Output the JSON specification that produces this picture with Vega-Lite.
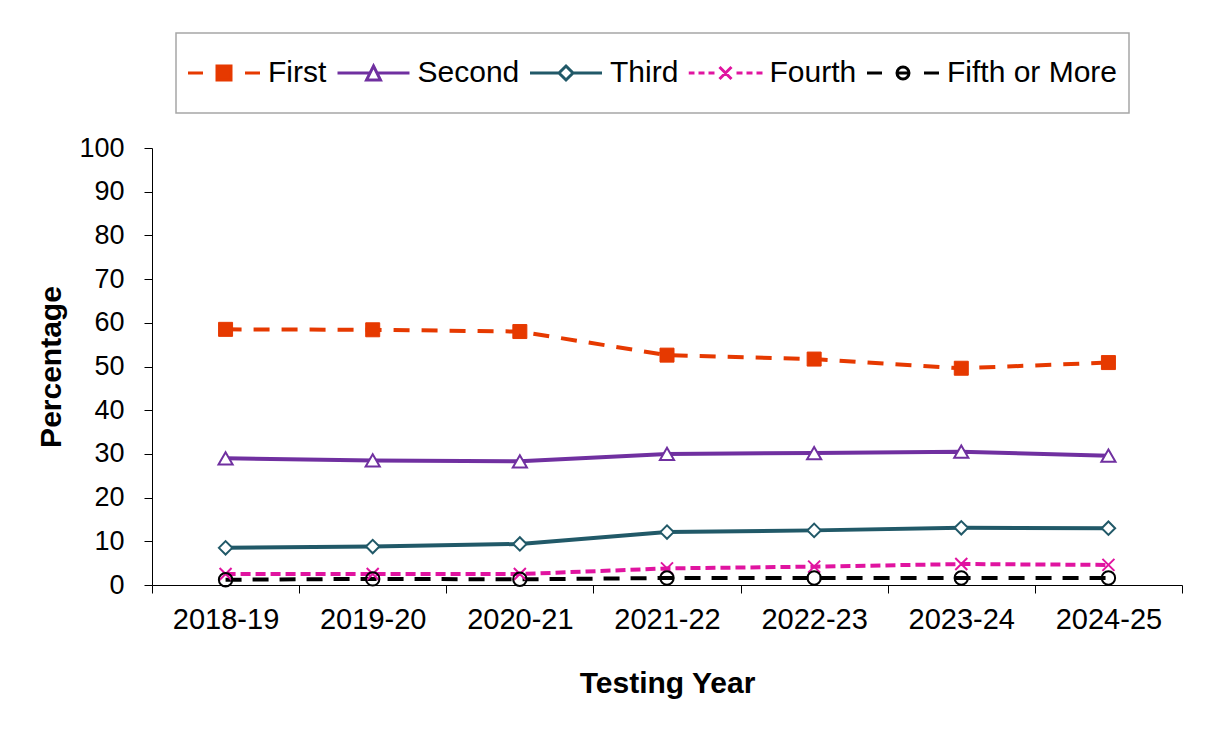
{
  "$schema": "https://vega.github.io/schema/vega-lite/v6.json",
  "width": 1030,
  "height": 437,
  "autosize": "none",
  "padding": {"left": 152, "top": 148, "right": 28, "bottom": 147},
  "background": "white",
  "config": {
    "font": "Liberation Sans",
    "view": {"stroke": null},
    "legend": {"strokeWidth": 1.5}
  },
  "data": {
    "values": [
      {"year": "2018-19", "series": "First", "value": 58.5},
      {"year": "2019-20", "series": "First", "value": 58.4},
      {"year": "2020-21", "series": "First", "value": 58.0},
      {"year": "2021-22", "series": "First", "value": 52.6},
      {"year": "2022-23", "series": "First", "value": 51.7},
      {"year": "2023-24", "series": "First", "value": 49.6},
      {"year": "2024-25", "series": "First", "value": 50.9},
      {"year": "2018-19", "series": "Second", "value": 29.0},
      {"year": "2019-20", "series": "Second", "value": 28.5},
      {"year": "2020-21", "series": "Second", "value": 28.3},
      {"year": "2021-22", "series": "Second", "value": 30.0},
      {"year": "2022-23", "series": "Second", "value": 30.2},
      {"year": "2023-24", "series": "Second", "value": 30.5},
      {"year": "2024-25", "series": "Second", "value": 29.6},
      {"year": "2018-19", "series": "Third", "value": 8.5},
      {"year": "2019-20", "series": "Third", "value": 8.8},
      {"year": "2020-21", "series": "Third", "value": 9.4},
      {"year": "2021-22", "series": "Third", "value": 12.1},
      {"year": "2022-23", "series": "Third", "value": 12.5},
      {"year": "2023-24", "series": "Third", "value": 13.1},
      {"year": "2024-25", "series": "Third", "value": 13.0},
      {"year": "2018-19", "series": "Fourth", "value": 2.5},
      {"year": "2019-20", "series": "Fourth", "value": 2.5},
      {"year": "2020-21", "series": "Fourth", "value": 2.5},
      {"year": "2021-22", "series": "Fourth", "value": 3.8},
      {"year": "2022-23", "series": "Fourth", "value": 4.2},
      {"year": "2023-24", "series": "Fourth", "value": 4.8},
      {"year": "2024-25", "series": "Fourth", "value": 4.6},
      {"year": "2018-19", "series": "Fifth or More", "value": 1.2},
      {"year": "2019-20", "series": "Fifth or More", "value": 1.4},
      {"year": "2020-21", "series": "Fifth or More", "value": 1.3},
      {"year": "2021-22", "series": "Fifth or More", "value": 1.6},
      {"year": "2022-23", "series": "Fifth or More", "value": 1.6},
      {"year": "2023-24", "series": "Fifth or More", "value": 1.6},
      {"year": "2024-25", "series": "Fifth or More", "value": 1.6}
    ]
  },
  "encoding": {
    "x": {
      "field": "year",
      "type": "ordinal",
      "bandPosition": 0.5,
      "scale": {"type": "band", "paddingInner": 0, "paddingOuter": 0},
      "title": "Testing Year",
      "axis": {
        "labelAngle": 0,
        "tickBand": "extent",
        "labelFontSize": 29,
        "labelColor": "black",
        "labelPadding": 12,
        "tickSize": 8,
        "tickColor": "black",
        "domainColor": "black",
        "grid": false,
        "titleFontSize": 30,
        "titleFontWeight": "bold",
        "titleColor": "black",
        "titlePadding": 34
      }
    },
    "y": {
      "field": "value",
      "type": "quantitative",
      "scale": {"domain": [0, 100], "nice": false},
      "title": "Percentage",
      "axis": {
        "values": [0, 10, 20, 30, 40, 50, 60, 70, 80, 90, 100],
        "labelFontSize": 27,
        "labelColor": "black",
        "labelPadding": 20,
        "labelFlush": false,
        "tickSize": 8,
        "tickColor": "black",
        "domainColor": "black",
        "grid": false,
        "titleFontSize": 30,
        "titleFontWeight": "bold",
        "titleColor": "black",
        "titlePadding": 12
      }
    }
  },
  "layer": [
    {
      "mark": {"type": "point", "size": 4, "strokeWidth": 3, "filled": false, "opacity": 0},
      "encoding": {
        "color": {
          "field": "series",
          "type": "nominal",
          "scale": {
            "domain": ["First", "Second", "Third", "Fourth", "Fifth or More"],
            "range": ["#e63900", "#7030a0", "#215968", "#e014a0", "#000000"]
          },
          "legend": {
            "orient": "none",
            "legendX": 24,
            "legendY": -115,
            "direction": "horizontal",
            "title": null,
            "labelFontSize": 30,
            "labelColor": "black",
            "labelLimit": 400,
            "labelOffset": 29,
            "symbolOffset": 22,
            "symbolSize": 4,
            "symbolStrokeWidth": 3,
            "symbolOpacity": 1,
            "clipHeight": 58,
            "columnPadding": 9.5,
            "padding": 11,
            "strokeColor": "#a6a6a6"
          }
        },
        "shape": {
          "field": "series",
          "type": "nominal",
          "scale": {
            "domain": ["First", "Second", "Third", "Fourth", "Fifth or More"],
            "range": [
              "M0,-28M0,28M-36,0H-21M21,0H36M-7,-7H7V7H-7Z",
              "M0,-28M0,28M-36,0H-4M4,0H36M0,-7L7,7H-7Z",
              "M0,-28M0,28M-36,0H-7M7,0H36M0,-7L7,0L0,7L-7,0Z",
              "M0,-28M0,28M-37,0H-31M-27,0H-21M-17,0H-11M11,0H17M21,0H27M31,0H37M-6,-6L6,6M-6,6L6,-6",
              "M0,-28M0,28M-36,0H-21M21,0H36M-6,0C-6,-3.314,-3.314,-6,0,-6C3.314,-6,6,-3.314,6,0C6,3.314,3.314,6,0,6C-3.314,6,-6,3.314,-6,0ZM-6,0H6"
            ]
          }
        },
        "fill": {
          "field": "series",
          "type": "nominal",
          "scale": {
            "domain": ["First", "Second", "Third", "Fourth", "Fifth or More"],
            "range": ["#e63900", "white", "white", "white", "transparent"]
          }
        }
      }
    },
    {
      "transform": [{"filter": "datum.series === 'First'"}],
      "mark": {"type": "line", "strokeWidth": 4, "color": "#e63900", "strokeDash": [16, 12]},
      "encoding": {}
    },
    {
      "transform": [{"filter": "datum.series === 'Second'"}],
      "mark": {"type": "line", "strokeWidth": 4, "color": "#7030a0"},
      "encoding": {}
    },
    {
      "transform": [{"filter": "datum.series === 'Third'"}],
      "mark": {"type": "line", "strokeWidth": 4, "color": "#215968"},
      "encoding": {}
    },
    {
      "transform": [{"filter": "datum.series === 'Fourth'"}],
      "mark": {"type": "line", "strokeWidth": 4, "color": "#e014a0", "strokeDash": [10, 5]},
      "encoding": {}
    },
    {
      "transform": [{"filter": "datum.series === 'Fifth or More'"}],
      "mark": {"type": "line", "strokeWidth": 4, "color": "#000000", "strokeDash": [16, 11]},
      "encoding": {}
    },
    {
      "transform": [{"filter": "datum.series === 'First'"}],
      "mark": {"type": "point", "shape": "square", "size": 196, "filled": true, "fill": "#e63900", "stroke": "#e63900", "strokeWidth": 1, "opacity": 1}
    },
    {
      "transform": [{"filter": "datum.series === 'Second'"}],
      "mark": {"type": "point", "shape": "triangle-up", "size": 200, "fill": "white", "stroke": "#7030a0", "strokeWidth": 2, "opacity": 1}
    },
    {
      "transform": [{"filter": "datum.series === 'Third'"}],
      "mark": {"type": "point", "shape": "diamond", "size": 180, "fill": "white", "stroke": "#215968", "strokeWidth": 2, "opacity": 1}
    },
    {
      "transform": [{"filter": "datum.series === 'Fourth'"}],
      "mark": {"type": "point", "shape": "M-1,-1L1,1M-1,1L1,-1", "size": 144, "filled": false, "stroke": "#e014a0", "strokeWidth": 2, "opacity": 1}
    },
    {
      "transform": [{"filter": "datum.series === 'Fifth or More'"}],
      "mark": {"type": "point", "shape": "circle", "size": 180, "filled": false, "stroke": "#000000", "strokeWidth": 2, "opacity": 1}
    }
  ]
}
